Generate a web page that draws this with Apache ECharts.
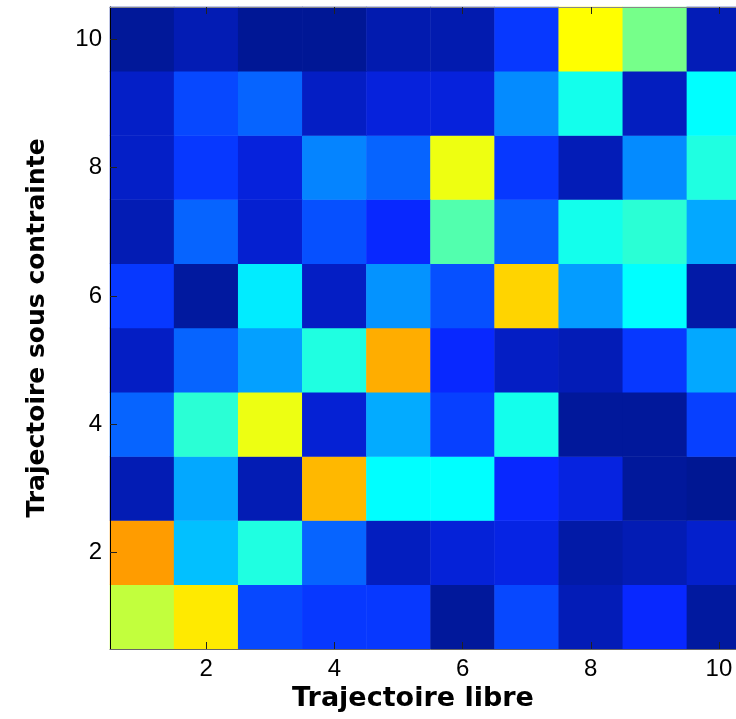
<!DOCTYPE html>
<html>
<head>
<meta charset="utf-8">
<script src="https://cdn.jsdelivr.net/npm/echarts@6/dist/echarts.min.js"></script>
<style>
html,body{margin:0;padding:0;background:#fff;overflow:hidden;width:736px;height:719px;}
#chart{width:760px;height:719px;}
</style>
</head>
<body>
<div id="chart"></div>
<script>
// Categories (1..10) for both axes
const xCategories = ['1','2','3','4','5','6','7','8','9','10'];
const yCategories = ['1','2','3','4','5','6','7','8','9','10'];
// Tick labels shown
const tickLabels = ['2','4','6','8','10'];

// Cell values (0..1 on the colour scale), one array per row, x = 1..10
const row1  = [0.565, 0.646, 0.162, 0.144, 0.144, 0.013, 0.162, 0.045, 0.125, 0.018];
const row2  = [0.722, 0.302, 0.405, 0.195, 0.054, 0.081, 0.095, 0.027, 0.041, 0.068];
const row3  = [0.041, 0.274, 0.041, 0.695, 0.375, 0.375, 0.125, 0.090, 0.013, 0.005];
const row4  = [0.195, 0.416, 0.607, 0.077, 0.278, 0.153, 0.394, 0.013, 0.013, 0.153];
const row5  = [0.059, 0.195, 0.265, 0.405, 0.706, 0.125, 0.059, 0.045, 0.144, 0.274];
const row6  = [0.144, 0.018, 0.353, 0.059, 0.250, 0.172, 0.667, 0.260, 0.375, 0.027];
const row7  = [0.041, 0.195, 0.072, 0.172, 0.125, 0.455, 0.190, 0.394, 0.416, 0.274];
const row8  = [0.063, 0.144, 0.086, 0.232, 0.195, 0.608, 0.144, 0.045, 0.241, 0.405];
const row9  = [0.063, 0.162, 0.195, 0.059, 0.086, 0.086, 0.241, 0.394, 0.054, 0.375];
const row10 = [0.011, 0.041, 0.007, 0.007, 0.036, 0.036, 0.144, 0.625, 0.490, 0.045];

const rows = [row1, row2, row3, row4, row5, row6, row7, row8, row9, row10];
const data = [];
rows.forEach(function (r, yi) {
  r.forEach(function (v, xi) { data.push([xi, yi, v]); });
});

const showTick = function (i, name) { return tickLabels.indexOf(name) >= 0; };

const chart = echarts.init(document.getElementById('chart'), null, {renderer: 'canvas'});
chart.setOption({
  animation: false,
  backgroundColor: '#ffffff',
  grid: {left: 110, top: 7, width: 641, height: 642, containLabel: false},
  visualMap: {
    show: false, min: 0, max: 1, calculable: false,
    inRange: {color: ['#00168f', '#0828ff', '#0493ff', '#00ffff', '#80ff80', '#ffff00', '#ff8000', '#ff0000', '#800000']}
  },
  xAxis: [{
    type: 'category', data: xCategories, position: 'bottom', z: 10,
    axisLine: {show: true, lineStyle: {color: '#666', width: 1}},
    axisTick: {show: true, inside: true, length: 7, alignWithLabel: true, interval: showTick, lineStyle: {color: '#222'}},
    axisLabel: {show: true, interval: showTick, margin: 8, fontFamily: 'Liberation Sans', fontSize: 24, color: '#000'},
    splitLine: {show: false},
    name: 'Trajectoire libre', nameLocation: 'middle', nameGap: 35,
    nameTextStyle: {fontFamily: 'DejaVu Sans', fontWeight: 'bold', fontSize: 27, color: '#000', padding: [0, 35, 0, 0]}
  }, {
    type: 'category', data: xCategories, position: 'top', z: 10,
    axisLine: {show: true, lineStyle: {color: '#888', width: 1}},
    axisTick: {show: true, inside: true, length: 7, alignWithLabel: true, interval: showTick, lineStyle: {color: '#222'}},
    axisLabel: {show: false}, splitLine: {show: false}
  }],
  yAxis: [{
    type: 'category', data: yCategories, position: 'left', z: 10,
    axisLine: {show: true, lineStyle: {color: '#000', width: 1}},
    axisTick: {show: true, inside: true, length: 7, alignWithLabel: true, interval: showTick, lineStyle: {color: '#222'}},
    axisLabel: {show: true, interval: showTick, margin: 8, fontFamily: 'Liberation Sans', fontSize: 24, color: '#000'},
    splitLine: {show: false},
    name: 'Trajectoire sous contrainte', nameLocation: 'middle', nameGap: 60,
    nameTextStyle: {fontFamily: 'DejaVu Sans', fontWeight: 'bold', fontSize: 25, color: '#000'}
  }],
  series: [{
    type: 'heatmap', xAxisIndex: 0, yAxisIndex: 0, data: data,
    itemStyle: {borderWidth: 0},
    emphasis: {disabled: true}
  }]
});
</script>
</body>
</html>
